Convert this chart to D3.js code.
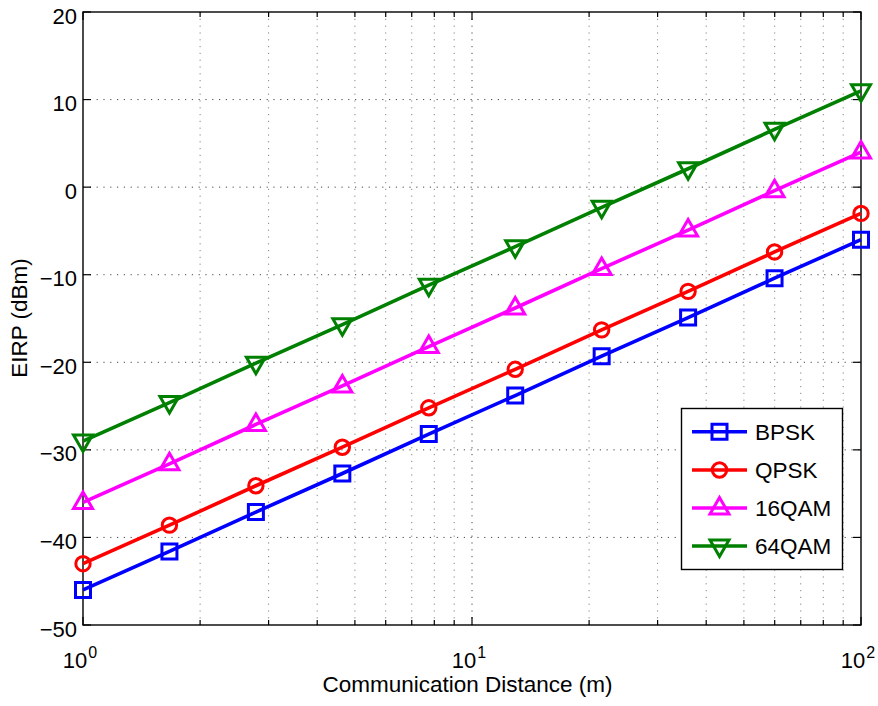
<!DOCTYPE html>
<html>
<head>
<meta charset="utf-8">
<script src="https://cdn.jsdelivr.net/npm/d3@7/dist/d3.min.js"></script>
<style>
  html, body { margin: 0; padding: 0; background: #fff; }
  svg { display: block; }
  text { font-family: "Liberation Sans", Arial, Helvetica, sans-serif; fill: #000; }
</style>
</head>
<body>
<svg id="chart" width="878" height="706"></svg>
<script>
// Communication distance samples (m)
const distances = [1, 1.6681, 2.7826, 4.6416, 7.7426, 12.915, 21.544, 35.938, 59.948, 100];

// Required EIRP (dBm) per modulation scheme
const bpsk   = [-46.0, -41.6, -37.1, -32.7, -28.2, -23.8, -19.3, -14.9, -10.4, -6.0];
const qpsk   = [-43.0, -38.6, -34.1, -29.7, -25.2, -20.8, -16.3, -11.9, -7.4, -3.0];
const qam16  = [-36.0, -31.6, -27.1, -22.7, -18.2, -13.8, -9.3, -4.9, -0.4, 4.0];
const qam64  = [-29.0, -24.6, -20.1, -15.7, -11.2, -6.8, -2.3, 2.1, 6.6, 11.0];

const seriesNames = ["BPSK", "QPSK", "16QAM", "64QAM"];
const seriesColors = ["#0000ff", "#ff0000", "#ff00ff", "#008000"];
const seriesMarkers = ["square", "circle", "triangleUp", "triangleDown"];

const yTicks = [-50, -40, -30, -20, -10, 0, 10, 20];
const xMajorTicks = [1, 10, 100];
const xTickExponents = ["0", "1", "2"];
const xMinorTicks = [2, 3, 4, 5, 6, 7, 8, 9, 20, 30, 40, 50, 60, 70, 80, 90];

const xLabel = "Communication Distance (m)";
const yLabel = "EIRP (dBm)";

const svg = d3.select("#chart");
const plot = { left: 83, right: 861, top: 12, bottom: 625 };

const x = d3.scaleLog().domain([1, 100]).range([plot.left, plot.right]);
const y = d3.scaleLinear().domain([-50, 20]).range([plot.bottom, plot.top]);

const TICK_FONT = 22;
const LABEL_FONT = 22.5;
const gridDash = "1.2,5.6";

// Grid
const grid = svg.append("g").attr("stroke", "#333").attr("stroke-width", 0.9)
  .attr("stroke-dasharray", gridDash).attr("fill", "none");
grid.selectAll("line.h").data(yTicks.filter(v => v > -50 && v < 20)).join("line")
  .attr("x1", plot.left).attr("x2", plot.right)
  .attr("y1", d => y(d)).attr("y2", d => y(d));
grid.selectAll("line.v").data(xMinorTicks.concat([10])).join("line")
  .attr("x1", d => x(d)).attr("x2", d => x(d))
  .attr("y1", plot.top).attr("y2", plot.bottom)
  .attr("stroke", d => d === 10 ? "#333" : "#777");

// Tick marks (inside, on all four sides)
const ticks = svg.append("g").attr("stroke", "#000").attr("stroke-width", 1.2);
xMinorTicks.forEach(v => {
  ticks.append("line").attr("x1", x(v)).attr("x2", x(v)).attr("y1", plot.bottom).attr("y2", plot.bottom - 5);
  ticks.append("line").attr("x1", x(v)).attr("x2", x(v)).attr("y1", plot.top).attr("y2", plot.top + 5);
});
xMajorTicks.forEach(v => {
  ticks.append("line").attr("x1", x(v)).attr("x2", x(v)).attr("y1", plot.bottom).attr("y2", plot.bottom - 8);
  ticks.append("line").attr("x1", x(v)).attr("x2", x(v)).attr("y1", plot.top).attr("y2", plot.top + 8);
});
yTicks.forEach(v => {
  ticks.append("line").attr("x1", plot.left).attr("x2", plot.left + 8).attr("y1", y(v)).attr("y2", y(v));
  ticks.append("line").attr("x1", plot.right).attr("x2", plot.right - 8).attr("y1", y(v)).attr("y2", y(v));
});

// Axes box
svg.append("rect")
  .attr("x", plot.left).attr("y", plot.top)
  .attr("width", plot.right - plot.left).attr("height", plot.bottom - plot.top)
  .attr("fill", "none").attr("stroke", "#000").attr("stroke-width", 1.4);

// Y tick labels
svg.append("g").selectAll("text").data(yTicks).join("text")
  .attr("x", plot.left - 6)
  .attr("y", d => y(d) + 11.5)
  .attr("text-anchor", "end")
  .attr("font-size", TICK_FONT)
  .text(d => d < 0 ? "\u2212" + Math.abs(d) : String(d));

// X tick labels (powers of ten)
const xl = svg.append("g");
xMajorTicks.forEach((v, i) => {
  const t = xl.append("text")
    .attr("x", x(v) - 3)
    .attr("y", 668)
    .attr("text-anchor", "middle")
    .attr("font-size", TICK_FONT);
  t.append("tspan").text("10");
  t.append("tspan").attr("dy", -10).attr("dx", 1).attr("font-size", 16).text(xTickExponents[i]);
});

// Axis labels
svg.append("text")
  .attr("x", 467.5).attr("y", 692)
  .attr("text-anchor", "middle")
  .attr("font-size", LABEL_FONT)
  .text(xLabel);
svg.append("text")
  .attr("transform", "translate(27,318) rotate(-90)")
  .attr("text-anchor", "middle")
  .attr("font-size", LABEL_FONT)
  .text(yLabel);

// Marker shapes
function markerPath(kind) {
  switch (kind) {
    case "square": return "M-7.5,-7.5H7.5V7.5H-7.5Z";
    case "circle": return d3.symbol().type(d3.symbolCircle).size(Math.PI * 7.2 * 7.2)();
    case "triangleUp": return "M0,-10.5L9.5,6L-9.5,6Z";
    case "triangleDown": return "M0,10.5L9.5,-6L-9.5,-6Z";
  }
}

const allSeries = [bpsk, qpsk, qam16, qam64];
const line = d3.line().x(d => x(d[0])).y(d => y(d[1]));

allSeries.forEach((vals, i) => {
  const pts = distances.map((d, j) => [d, vals[j]]);
  const g = svg.append("g");
  g.append("path").datum(pts)
    .attr("d", line)
    .attr("fill", "none")
    .attr("stroke", seriesColors[i])
    .attr("stroke-width", 3.6)
    .attr("stroke-linejoin", "round");
  g.selectAll("path.m").data(pts).join("path")
    .attr("class", "m")
    .attr("transform", d => `translate(${x(d[0])},${y(d[1])})`)
    .attr("d", markerPath(seriesMarkers[i]))
    .attr("fill", "none")
    .attr("stroke", seriesColors[i])
    .attr("stroke-width", 3);
});

// Legend
const legend = svg.append("g");
legend.append("rect")
  .attr("x", 681.5).attr("y", 408.5).attr("width", 161).attr("height", 161)
  .attr("fill", "#fff").attr("stroke", "#000").attr("stroke-width", 1.4);
const legendRows = [431.7, 470, 508, 546];
seriesNames.forEach((name, i) => {
  const ly = legendRows[i];
  legend.append("line")
    .attr("x1", 692).attr("x2", 747).attr("y1", ly).attr("y2", ly)
    .attr("stroke", seriesColors[i]).attr("stroke-width", 3.6);
  legend.append("path")
    .attr("transform", `translate(719.5,${ly})`)
    .attr("d", markerPath(seriesMarkers[i]))
    .attr("fill", "none").attr("stroke", seriesColors[i]).attr("stroke-width", 3);
  legend.append("text")
    .attr("x", 755).attr("y", ly + 8.3)
    .attr("font-size", LABEL_FONT)
    .text(name);
});
</script>
</body>
</html>
